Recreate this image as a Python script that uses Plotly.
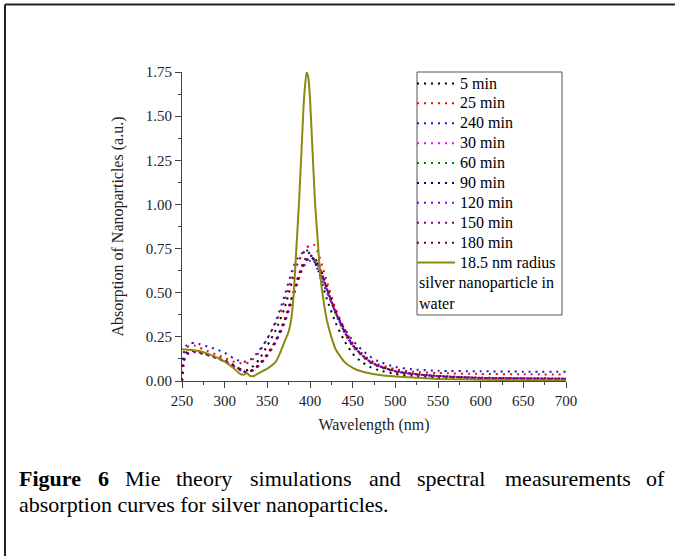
import plotly.graph_objects as go

# ---------------- data ----------------
wavelength = [250, 252, 255, 260, 265, 270, 280, 290, 300, 310, 320, 325, 330, 340, 350, 360, 370,
              380, 385, 390, 395, 400, 405, 410, 415, 420, 430, 440, 450, 460, 470, 480, 500, 520,
              550, 600, 650, 700]

a_5min = [0.0, 0.12, 0.15, 0.16, 0.165, 0.16, 0.15, 0.13, 0.11, 0.085, 0.065, 0.06, 0.07, 0.12, 0.2,
          0.29, 0.41, 0.58, 0.66, 0.71, 0.74, 0.72, 0.68, 0.62, 0.54, 0.46, 0.33, 0.23, 0.155, 0.11,
          0.08, 0.062, 0.04, 0.028, 0.018, 0.01, 0.007, 0.005]
a_25min = [0.0, 0.15, 0.19, 0.2, 0.2, 0.19, 0.17, 0.15, 0.13, 0.11, 0.1, 0.1, 0.11, 0.16, 0.24,
           0.33, 0.45, 0.6, 0.66, 0.71, 0.75, 0.77, 0.77, 0.72, 0.64, 0.56, 0.41, 0.3, 0.215, 0.16,
           0.12, 0.095, 0.067, 0.053, 0.045, 0.04, 0.038, 0.037]
a_240min = [0.0, 0.16, 0.2, 0.215, 0.215, 0.21, 0.195, 0.18, 0.16, 0.13, 0.11, 0.11, 0.12, 0.17, 0.24,
            0.34, 0.48, 0.64, 0.69, 0.72, 0.745, 0.72, 0.68, 0.62, 0.56, 0.5, 0.39, 0.3, 0.23, 0.18,
            0.14, 0.112, 0.08, 0.066, 0.058, 0.055, 0.053, 0.052]
a_30min = [0.0, 0.12, 0.16, 0.17, 0.17, 0.165, 0.15, 0.135, 0.115, 0.09, 0.06, 0.05, 0.055, 0.09, 0.15,
           0.23, 0.34, 0.49, 0.57, 0.64, 0.69, 0.71, 0.7, 0.66, 0.59, 0.52, 0.385, 0.28, 0.2, 0.15,
           0.11, 0.085, 0.055, 0.04, 0.028, 0.018, 0.015, 0.013]
a_60min = [0.0, 0.11, 0.155, 0.165, 0.168, 0.163, 0.148, 0.132, 0.112, 0.088, 0.058, 0.048, 0.053, 0.088,
           0.148, 0.225, 0.335, 0.48, 0.56, 0.63, 0.68, 0.69, 0.68, 0.65, 0.585, 0.515, 0.38, 0.275,
           0.195, 0.145, 0.105, 0.082, 0.052, 0.038, 0.026, 0.016, 0.013, 0.011]
a_90min = [0.0, 0.12, 0.158, 0.168, 0.17, 0.165, 0.15, 0.134, 0.114, 0.09, 0.06, 0.05, 0.055, 0.09, 0.15,
           0.228, 0.338, 0.485, 0.565, 0.635, 0.685, 0.7, 0.69, 0.655, 0.59, 0.52, 0.39, 0.285, 0.205,
           0.152, 0.112, 0.087, 0.056, 0.041, 0.028, 0.018, 0.015, 0.013]
a_120min = [0.0, 0.1, 0.15, 0.16, 0.163, 0.16, 0.146, 0.13, 0.11, 0.086, 0.056, 0.046, 0.05, 0.085,
            0.143, 0.22, 0.325, 0.47, 0.55, 0.62, 0.665, 0.68, 0.675, 0.645, 0.58, 0.515, 0.385, 0.28,
            0.2, 0.15, 0.11, 0.085, 0.055, 0.04, 0.027, 0.017, 0.014, 0.012]
a_150min = [0.0, 0.11, 0.155, 0.165, 0.167, 0.162, 0.148, 0.133, 0.113, 0.089, 0.058, 0.049, 0.054,
            0.089, 0.148, 0.226, 0.336, 0.48, 0.56, 0.63, 0.68, 0.695, 0.69, 0.655, 0.59, 0.52, 0.39,
            0.284, 0.203, 0.15, 0.11, 0.086, 0.055, 0.04, 0.027, 0.017, 0.014, 0.012]
a_180min = [0.0, 0.12, 0.16, 0.17, 0.172, 0.167, 0.152, 0.136, 0.116, 0.091, 0.061, 0.051, 0.056, 0.092,
            0.152, 0.232, 0.345, 0.495, 0.575, 0.645, 0.695, 0.71, 0.7, 0.665, 0.6, 0.53, 0.395, 0.29,
            0.208, 0.155, 0.114, 0.088, 0.057, 0.042, 0.029, 0.019, 0.016, 0.014]

mie_wavelength = [250, 260, 270, 280, 290, 300, 310, 318, 322, 326, 330, 335, 340, 350, 360, 365, 370,
                  375, 378, 381, 384, 387, 390, 393, 396, 398, 400, 403, 406, 409, 412, 416, 420, 425,
                  430, 440, 450, 460, 480, 500, 550, 600, 650, 700]
mie_absorption = [0.18, 0.175, 0.17, 0.155, 0.135, 0.11, 0.075, 0.04, 0.035, 0.045, 0.028, 0.03, 0.045,
                  0.07, 0.11, 0.16, 0.22, 0.28, 0.35, 0.5, 0.75, 1.0, 1.3, 1.6, 1.75, 1.72, 1.6, 1.3,
                  1.0, 0.8, 0.6, 0.45, 0.34, 0.25, 0.18, 0.11, 0.075, 0.055, 0.035, 0.025, 0.012, 0.007,
                  0.004, 0.003]

series_names = ["5 min", "25 min", "240 min", "30 min", "60 min", "90 min", "120 min", "150 min", "180 min"]
series_values = [a_5min, a_25min, a_240min, a_30min, a_60min, a_90min, a_120min, a_150min, a_180min]
series_colors = ["#000000", "#ff0000", "#1a1ad0", "#ff00ff", "#008000", "#000080", "#8000ff", "#800080", "#800000"]
mie_name = "18.5 nm radius"
mie_name_rest = ["silver nanoparticle in", "water"]
mie_color = "#8a8a10"

x_ticks = [250, 300, 350, 400, 450, 500, 550, 600, 650, 700]
y_ticks = [0.0, 0.25, 0.5, 0.75, 1.0, 1.25, 1.5, 1.75]

caption_line1 = ["<b>Figure</b>", "<b>6</b>", "Mie", "theory", "simulations", "and", "spectral", "measurements", "of"]
caption_line2 = "absorption curves for silver nanoparticles."

# ---------------- figure ----------------
W, H = 675, 556
L, R, T, B = 182, 566, 72, 381  # plot-area pixel box

def px(x):
    return (x - L) / (R - L)

def py(y):
    return (B - y) / (B - T)

FONT = "Liberation Serif, Times New Roman, serif"
LEG_FS = 13        # controls legend row spacing
LEG_TEXT_FS = 16   # actual legend glyph size


def leg(txt):
    return '<span style="font-size:%dpx">%s</span>' % (LEG_TEXT_FS, txt)


fig = go.Figure()
for name, vals, col in zip(series_names, series_values, series_colors):
    fig.add_trace(go.Scatter(x=wavelength, y=vals, name=leg(name), mode="lines",
                             line=dict(color=col, width=2, dash="2px,5px", shape="spline", smoothing=0.6)))
fig.add_trace(go.Scatter(x=mie_wavelength, y=mie_absorption, name=leg(mie_name), mode="lines",
                         line=dict(color=mie_color, width=2, shape="spline", smoothing=0.5)))

axis_common = dict(showline=True, linecolor="#444", linewidth=1, ticks="outside", ticklen=6,
                   tickcolor="#444", showgrid=False, zeroline=False, mirror=False,
                   tickfont=dict(family=FONT, size=15, color="#222"))

fig.update_xaxes(range=[250, 700], tickvals=x_ticks,
                 title=dict(text="Wavelength (nm)", font=dict(family=FONT, size=16, color="#222"), standoff=10),
                 minor=dict(ticks="outside", ticklen=3, dtick=25, tick0=250, tickcolor="#444"),
                 **axis_common)
fig.update_yaxes(range=[0, 1.75], tickvals=y_ticks, tickformat=".2f",
                 title=dict(text="Absorption of Nanoparticles (a.u.)", font=dict(family=FONT, size=16, color="#222"), standoff=18),
                 minor=dict(ticks="outside", ticklen=3, dtick=0.125, tick0=0, tickcolor="#444"),
                 **axis_common)

fig.update_layout(
    width=W, height=H,
    margin=dict(l=L, r=W - R, t=T, b=H - B, pad=0),
    paper_bgcolor="white", plot_bgcolor="white",
    font=dict(family=FONT, size=15, color="#000"),
    showlegend=True,
    legend=dict(x=px(412), y=py(68.5), xanchor="left", yanchor="top",
                bgcolor="rgba(0,0,0,0)", borderwidth=0,
                font=dict(family=FONT, size=LEG_FS, color="#000"),
                valign="top", tracegroupgap=0, itemwidth=38),
)

# legend box
fig.add_shape(type="rect", xref="paper", yref="paper", x0=px(417), x1=px(562), y0=py(72), y1=py(315),
              line=dict(color="#555", width=1), fillcolor="rgba(0,0,0,0)")

# legend continuation text (left aligned under the line symbol)
for txt, yy in zip(mie_name_rest, [283, 303]):
    fig.add_annotation(x=px(417), y=py(yy), xref="paper", yref="paper", xanchor="left", yanchor="middle",
                       text=txt, showarrow=False, font=dict(family=FONT, size=LEG_TEXT_FS, color="#000"))

# page frame
fig.add_shape(type="line", xref="paper", yref="paper", x0=px(5), x1=px(675), y0=py(4.5), y1=py(4.5),
              line=dict(color="#222", width=2))
fig.add_shape(type="line", xref="paper", yref="paper", x0=px(5), x1=px(5), y0=py(4.5), y1=py(556),
              line=dict(color="#222", width=2))

# caption (justified first line as separate words)
line1_x = [17, 96, 123, 174, 248, 367, 415, 503, 644]
for wtxt, wx in zip(caption_line1, line1_x):
    fig.add_annotation(x=px(wx), y=py(478), xref="paper", yref="paper", xanchor="left", yanchor="middle",
                       text=wtxt, showarrow=False, font=dict(family=FONT, size=22, color="#000"))
fig.add_annotation(x=px(17), y=py(504), xref="paper", yref="paper", xanchor="left", yanchor="middle",
                   text=caption_line2, showarrow=False,
                   font=dict(family=FONT, size=22, color="#000"))

fig.write_html("out.html", config={"displayModeBar": False},
               post_script="document.body.style.margin='0';")
